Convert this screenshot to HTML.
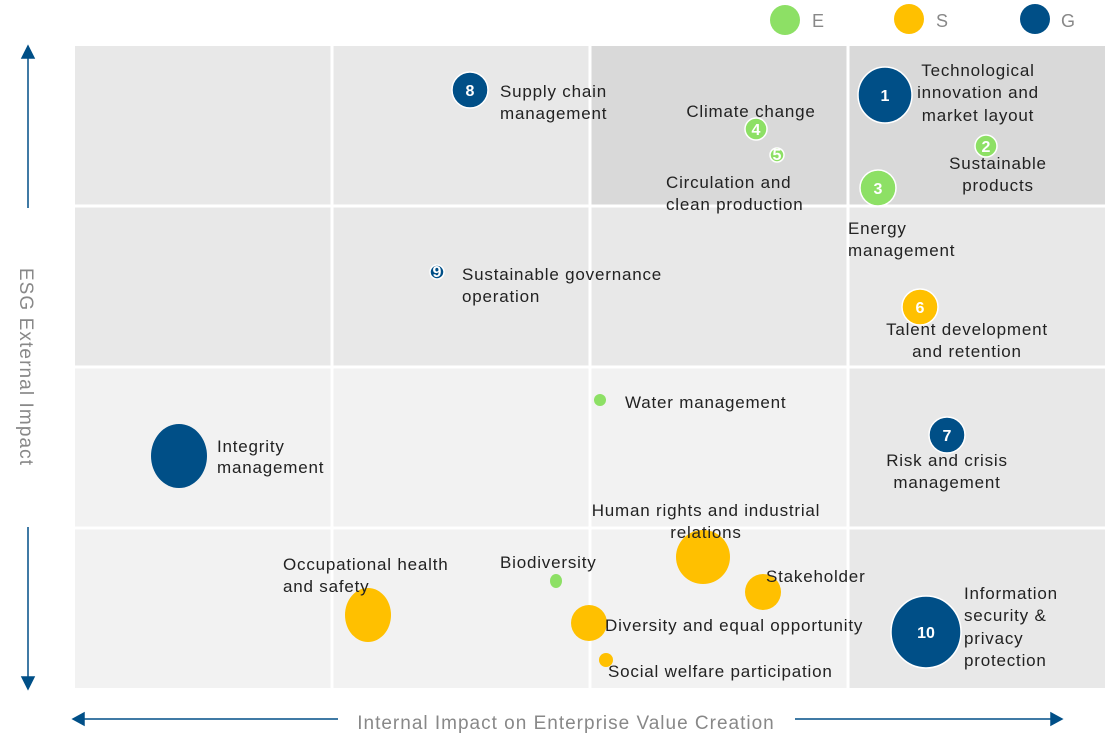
<!DOCTYPE html>
<html><head><meta charset="utf-8"><style>
html,body{margin:0;padding:0;background:#fff;}
svg{display:block;font-family:"Liberation Sans",sans-serif;}
.t{font-size:17px;fill:#222;letter-spacing:0.8px;}
.n{font-size:16px;fill:#fff;font-weight:bold;text-anchor:middle;}
</style></head><body>
<svg width="1109" height="748" viewBox="0 0 1109 748">
<rect x="75" y="46" width="1030" height="642" fill="#f2f2f2"/>
<rect x="75" y="46" width="515" height="321" fill="#e8e8e8"/>
<rect x="590" y="206" width="258" height="161" fill="#e8e8e8"/>
<rect x="590" y="46" width="515" height="160" fill="#d9d9d9"/>
<rect x="848" y="206" width="257" height="482" fill="#e8e8e8"/>
<g stroke="#fff" stroke-width="3">
<line x1="332" y1="46" x2="332" y2="688"/>
<line x1="590" y1="46" x2="590" y2="688"/>
<line x1="848" y1="46" x2="848" y2="688"/>
<line x1="75" y1="206" x2="1105" y2="206"/>
<line x1="75" y1="367" x2="1105" y2="367"/>
<line x1="75" y1="528" x2="1105" y2="528"/>
</g>
<circle cx="785" cy="20" r="15" fill="#8de065"/><text x="812" y="27" font-size="18" fill="#888">E</text>
<circle cx="909" cy="19" r="15" fill="#ffc000"/><text x="936" y="27" font-size="18" fill="#888">S</text>
<circle cx="1035" cy="19" r="15" fill="#004f87"/><text x="1061" y="27" font-size="18" fill="#888">G</text>
<g stroke="#004f87" stroke-width="1.5" fill="#004f87">
<line x1="28" y1="55" x2="28" y2="208"/><polygon points="22,58 34,58 28,46"/>
<line x1="28" y1="527" x2="28" y2="680"/><polygon points="22,677 34,677 28,689"/>
<line x1="75" y1="719" x2="338" y2="719"/><polygon points="73,719 84,713 84,725"/>
<line x1="795" y1="719" x2="1058" y2="719"/><polygon points="1062,719 1051,713 1051,725"/>
</g>
<text x="566" y="729" font-size="19" fill="#888" text-anchor="middle" letter-spacing="1">Internal Impact on Enterprise Value Creation</text>
<text transform="translate(20,367) rotate(90)" font-size="19" fill="#888" text-anchor="middle" letter-spacing="1.1">ESG External Impact</text>
<g stroke="#fff" stroke-width="1.5">
<ellipse cx="885" cy="95" rx="27" ry="28" fill="#004f87"/>
<circle cx="986" cy="146" r="11" fill="#8de065"/>
<circle cx="878" cy="188" r="18" fill="#8de065"/>
<circle cx="756" cy="129" r="11" fill="#8de065"/>
<circle cx="777" cy="155" r="7" fill="#8de065"/>
<circle cx="920" cy="307" r="18" fill="#ffc000"/>
<circle cx="947" cy="435" r="18" fill="#004f87"/>
<circle cx="470" cy="90" r="18" fill="#004f87"/>
<circle cx="437" cy="272" r="7" fill="#004f87"/>
<ellipse cx="926" cy="632" rx="35" ry="36" fill="#004f87"/>
</g>
<ellipse cx="179" cy="456" rx="28" ry="32" fill="#004f87"/>
<ellipse cx="368" cy="615" rx="23" ry="27" fill="#ffc000"/>
<ellipse cx="703" cy="557" rx="27" ry="27" fill="#ffc000"/>
<circle cx="763" cy="592" r="18" fill="#ffc000"/>
<circle cx="589" cy="623" r="18" fill="#ffc000"/>
<circle cx="606" cy="660" r="7" fill="#ffc000"/>
<ellipse cx="556" cy="581" rx="6" ry="7" fill="#8de065"/>
<circle cx="600" cy="400" r="6" fill="#8de065"/>
<text class="n" x="885" y="101">1</text>
<text class="n" x="986" y="152">2</text>
<text class="n" x="878" y="194">3</text>
<text class="n" x="756" y="135">4</text>
<text class="n" x="777" y="160" font-size="11">5</text>
<text class="n" x="920" y="313">6</text>
<text class="n" x="947" y="441">7</text>
<text class="n" x="470" y="96">8</text>
<text class="n" x="437" y="277" font-size="11">9</text>
<text class="n" x="926" y="638">10</text>
<g class="t">
<text x="978" y="76" text-anchor="middle">Technological</text>
<text x="978" y="98" text-anchor="middle">innovation and</text>
<text x="978" y="121" text-anchor="middle">market layout</text>
<text x="998" y="169" text-anchor="middle">Sustainable</text>
<text x="998" y="191" text-anchor="middle">products</text>
<text x="751" y="117" text-anchor="middle">Climate change</text>
<text x="666" y="188">Circulation and</text>
<text x="666" y="210">clean production</text>
<text x="848" y="234">Energy</text>
<text x="848" y="256">management</text>
<text x="500" y="97">Supply chain</text>
<text x="500" y="119">management</text>
<text x="462" y="280">Sustainable governance</text>
<text x="462" y="302">operation</text>
<text x="967" y="335" text-anchor="middle">Talent development</text>
<text x="967" y="357" text-anchor="middle">and retention</text>
<text x="625" y="408">Water management</text>
<text x="947" y="466" text-anchor="middle">Risk and crisis</text>
<text x="947" y="488" text-anchor="middle">management</text>
<text x="217" y="452">Integrity</text>
<text x="217" y="473">management</text>
<text x="706" y="516" text-anchor="middle">Human rights and industrial</text>
<text x="706" y="538" text-anchor="middle">relations</text>
<text x="283" y="570">Occupational health</text>
<text x="283" y="592">and safety</text>
<text x="500" y="568">Biodiversity</text>
<text x="766" y="582">Stakeholder</text>
<text x="605" y="631">Diversity and equal opportunity</text>
<text x="608" y="677">Social welfare participation</text>
<text x="964" y="599">Information</text>
<text x="964" y="621">security &amp;</text>
<text x="964" y="644">privacy</text>
<text x="964" y="666">protection</text>
</g>
</svg>
</body></html>
